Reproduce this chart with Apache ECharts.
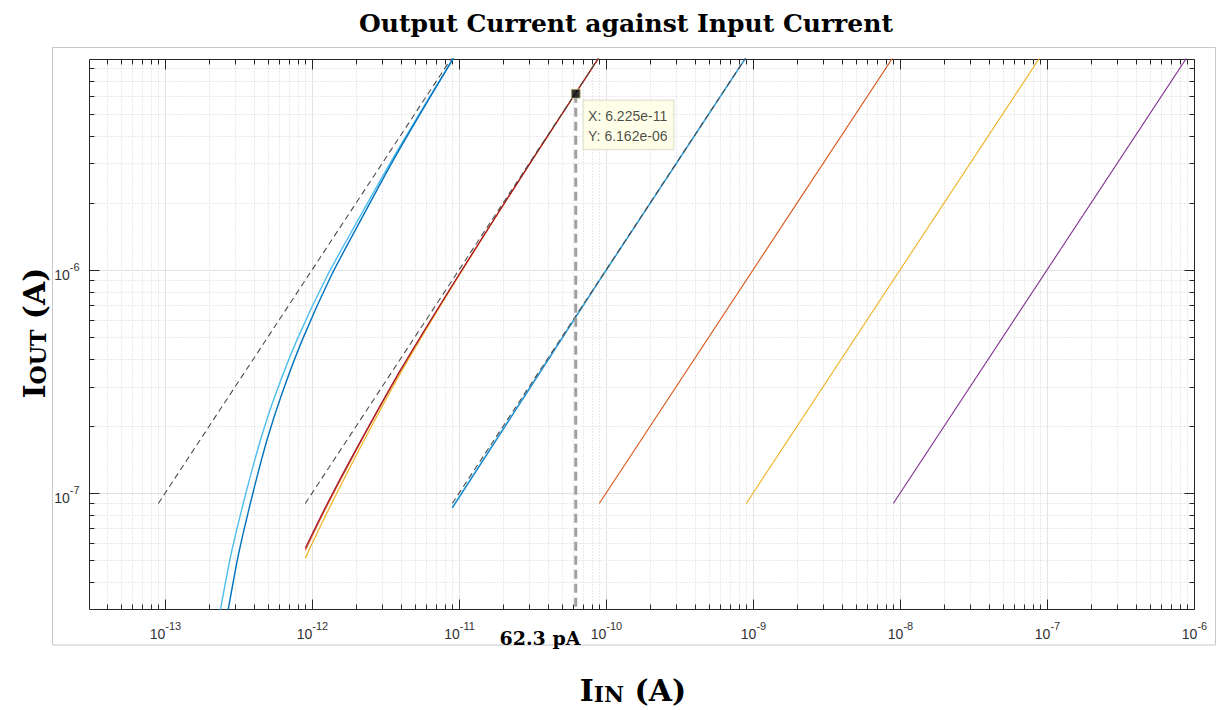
<!DOCTYPE html>
<html><head><meta charset="utf-8">
<script src="https://cdn.jsdelivr.net/npm/echarts@6/dist/echarts.min.js"></script>
<style>html,body{margin:0;padding:0;background:#fff}#c{width:1221px;height:710px}</style>
</head><body><div id="c"></div><script>
// ---- axis ranges & ticks ----
const xMin = 3.04e-14, xMax = 1e-6, yMin = 3.03e-8, yMax = 8.81e-6;
const xMajorTicks = [1e-13, 1e-12, 1e-11, 1e-10, 1e-9, 1e-8, 1e-7, 1e-6];
const xTickExponents = ['-13', '-12', '-11', '-10', '-9', '-8', '-7', '-6'];
const xMinorTicks = [4e-14,5e-14,6e-14,7e-14,8e-14,9e-14,
  2e-13,3e-13,4e-13,5e-13,6e-13,7e-13,8e-13,9e-13,
  2e-12,3e-12,4e-12,5e-12,6e-12,7e-12,8e-12,9e-12,
  2e-11,3e-11,4e-11,5e-11,6e-11,7e-11,8e-11,9e-11,
  2e-10,3e-10,4e-10,5e-10,6e-10,7e-10,8e-10,9e-10,
  2e-9,3e-9,4e-9,5e-9,6e-9,7e-9,8e-9,9e-9,
  2e-8,3e-8,4e-8,5e-8,6e-8,7e-8,8e-8,9e-8,
  2e-7,3e-7,4e-7,5e-7,6e-7,7e-7,8e-7,9e-7];
const yMajorTicks = [1e-7, 1e-6];
const yTickExponents = ['-7', '-6'];
const yMinorTicks = [4e-8,5e-8,6e-8,7e-8,8e-8,9e-8,
  2e-7,3e-7,4e-7,5e-7,6e-7,7e-7,8e-7,9e-7,
  2e-6,3e-6,4e-6,5e-6,6e-6,7e-6,8e-6];

// ---- series data [Iin, Iout] ----
const idealGain1e6 = [[9e-14, 9e-8], [1e-11, 1e-5]];
const idealGain1e5 = [[9e-13, 9e-8], [1e-10, 1e-5]];
const idealGain1e4 = [[9e-12, 9e-8], [1e-9, 1e-5]];

const curveA_light = [[2.09e-13,1.86e-8],[2.40e-13,3.09e-8],[2.82e-13,5.37e-8],[3.55e-13,1.00e-7],[4.47e-13,1.74e-7],
  [5.62e-13,2.75e-7],[7.94e-13,4.90e-7],[1.26e-12,9.33e-7],[2.00e-12,1.62e-6],[3.55e-12,3.16e-6],[6.31e-12,5.96e-6],[1.00e-11,9.77e-6]];
const curveA_blue = [[2.37e-13,1.86e-8],[2.71e-13,3.09e-8],[3.17e-13,5.37e-8],[3.96e-13,1.00e-7],[4.95e-13,1.74e-7],
  [6.19e-13,2.75e-7],[8.63e-13,4.90e-7],[1.34e-12,9.33e-7],[2.09e-12,1.62e-6],[3.63e-12,3.16e-6],[6.37e-12,5.96e-6],[1.00e-11,9.77e-6]];

const curveB_darkred = [[9.0e-13,5.68e-8],[1.26e-12,8.91e-8],[2.0e-12,1.58e-7],[3.98e-12,3.55e-7],[1e-11,9.55e-7],[3.16e-11,3.13e-6],[1e-10,1e-5]];
const curveB_orange = [[9.0e-13,5.55e-8],[1.26e-12,8.75e-8],[2.0e-12,1.56e-7],[3.98e-12,3.52e-7],[1e-11,9.5e-7],[3.16e-11,3.12e-6],[1e-10,1e-5]];
const curveB_yellow = [[9.0e-13,5.12e-8],[1.26e-12,8.13e-8],[2.0e-12,1.48e-7],[3.98e-12,3.43e-7],[1e-11,9.44e-7],[3.16e-11,3.13e-6],[1e-10,1e-5]];

const curveC_blue = [[9.0e-12,8.6e-8],[3.0e-11,2.93e-7],[9e-11,8.95e-7],[1e-9,1e-5]];
const curveC_light = [[9.0e-12,8.7e-8],[3.0e-11,2.95e-7],[9e-11,8.97e-7],[1e-9,1e-5]];

const lineGain1e3 = [[9e-11, 9e-8], [1e-8, 1e-5]];
const lineGain1e2 = [[9e-10, 9e-8], [1e-7, 1e-5]];
const lineGain1e1 = [[9e-9, 9e-8], [1e-6, 1e-5]];

const dataTipPoint = [6.225e-11, 6.162e-6];
const markerText = '62.3 pA';
const titleText = 'Output Current against Input Current';

// ---- chart ----
const chart = echarts.init(document.getElementById('c'), null, {renderer: 'svg'});
const tickColor = '#262626';
const tickRich = {
  b: {fontSize: 14, fontFamily: 'Liberation Sans', lineHeight: 20, verticalAlign: 'bottom', color: '#333', fill: '#333'},
  s: {fontSize: 11, fontFamily: 'Liberation Sans', lineHeight: 12, verticalAlign: 'top', color: '#333', fill: '#333'}
};
const px = v => Math.round(v) + 0.5;
function ln(x1, y1, x2, y2, style) {
  return {type: 'line', shape: {x1, y1, x2, y2}, style: Object.assign({fill: null}, style), silent: true};
}
function renderDecor(params, api) {
  const c = [];
  const bl = api.coord([xMin, yMin]), tr = api.coord([xMax, yMax]);
  const left = px(bl[0]), bottom = px(bl[1]), right = px(tr[0]), top = px(tr[1]);
  const minorGrid = {stroke: '#d4d4d4', lineWidth: 1, lineDash: [1, 2]};
  const majorGrid = {stroke: '#e3e3e3', lineWidth: 1};
  const tick = {stroke: tickColor, lineWidth: 1};
  xMinorTicks.forEach(v => {
    const x = px(api.coord([v, yMin])[0]);
    c.push(ln(x, top, x, bottom, minorGrid));
  });
  yMinorTicks.forEach(v => {
    const y = px(api.coord([xMin, v])[1]);
    c.push(ln(left, y, right, y, minorGrid));
  });
  xMajorTicks.forEach(v => {
    const x = px(api.coord([v, yMin])[0]);
    c.push(ln(x, top, x, bottom, majorGrid));
  });
  yMajorTicks.forEach(v => {
    const y = px(api.coord([xMin, v])[1]);
    c.push(ln(left, y, right, y, majorGrid));
  });
  xMinorTicks.forEach(v => {
    const x = px(api.coord([v, yMin])[0]);
    c.push(ln(x, bottom, x, bottom - 5, tick));
    c.push(ln(x, top, x, top + 5, tick));
  });
  yMinorTicks.forEach(v => {
    const y = px(api.coord([xMin, v])[1]);
    c.push(ln(left, y, left + 5, y, tick));
    c.push(ln(right, y, right - 5, y, tick));
  });
  xMajorTicks.forEach((v, i) => {
    const x = px(api.coord([v, yMin])[0]);
    c.push(ln(x, bottom, x, bottom - 10, tick));
    c.push(ln(x, top, x, top + 10, tick));
    c.push({type: 'text', silent: true, style: {text: '{b|10}{s|' + xTickExponents[i] + '}', rich: tickRich,
      x: x, y: bottom + 11, align: 'center', verticalAlign: 'top'}});
  });
  yMajorTicks.forEach((v, i) => {
    const y = px(api.coord([xMin, v])[1]);
    c.push(ln(left, y, left + 10, y, tick));
    c.push(ln(right, y, right - 10, y, tick));
    c.push({type: 'text', silent: true, style: {text: '{b|10}{s|' + yTickExponents[i] + '}', rich: tickRich,
      x: left - 10, y: y + 1, align: 'right', verticalAlign: 'middle'}});
  });
  c.push({type: 'rect', shape: {x: left, y: top, width: right - left, height: bottom - top},
    style: {fill: null, stroke: tickColor, lineWidth: 1}, silent: true});
  return {type: 'group', children: c};
}
function fmtExp(v) { return v.toExponential(3).replace(/e([+-])(\d)$/, 'e$10$2'); }

function lineSeries(name, data, color, width, dash, z) {
  return {name, type: 'line', data, showSymbol: false, symbol: 'none', silent: true, clip: true,
    smooth: data.length > 4 ? 0.25 : false, z: z || 3,
    lineStyle: {color, width, type: dash || 'solid'}, emphasis: {disabled: true}};
}

const serifBold = 'DejaVu Serif';
const nameRich = {
  b: {fontFamily: serifBold, fontWeight: 'bold', fontSize: 30, lineHeight: 34, verticalAlign: 'bottom', fill: '#000'},
  s: {fontFamily: serifBold, fontWeight: 'bold', fontSize: 22, lineHeight: 28, verticalAlign: 'bottom', fill: '#000'}
};
chart.setOption({
  animation: false,
  backgroundColor: '#fff',
  grid: {left: 89, top: 59, width: 1105, height: 550, containLabel: false, outerBoundsMode: 'none', show: false},
  xAxis: {type: 'log', logBase: 10, min: xMin, max: xMax,
    axisLine: {show: false}, axisTick: {show: false}, axisLabel: {show: false}, splitLine: {show: false},
    minorTick: {show: false}, minorSplitLine: {show: false}},
  yAxis: {type: 'log', logBase: 10, min: yMin, max: yMax,
    axisLine: {show: false}, axisTick: {show: false}, axisLabel: {show: false}, splitLine: {show: false},
    minorTick: {show: false}, minorSplitLine: {show: false}},
  graphic: [
    {type: 'rect', shape: {x: 52.5, y: 47.5, width: 1163, height: 597.5}, style: {fill: null, stroke: '#c8c8c8', lineWidth: 1}, z: -10, silent: true},
    {type: 'text', x: 626, y: 23, style: {text: titleText, font: 'bold 25px "DejaVu Serif"', fill: '#000', align: 'center', verticalAlign: 'middle'}},
    {type: 'text', x: 540, y: 638, style: {text: markerText, font: 'bold 19px "DejaVu Serif"', fill: '#000', align: 'center', verticalAlign: 'middle'}},
    {type: 'text', x: 633, y: 688, style: {text: '{b|I}{s|IN}{b| (A)}', align: 'center', verticalAlign: 'middle', rich: nameRich}},
    {type: 'text', x: 32, y: 333, rotation: Math.PI / 2, style: {text: '{b|I}{s|OUT}{b| (A)}', align: 'center', verticalAlign: 'middle', rich: nameRich}}
  ],
  series: [
    {type: 'custom', coordinateSystem: 'cartesian2d', data: [[xMin, yMin]], renderItem: renderDecor, silent: true, z: 1, clip: false},
    lineSeries('G1e6 light', curveA_light, '#4DBEEE', 1.4),
    lineSeries('G1e6 blue', curveA_blue, '#0072BD', 1.4),
    lineSeries('G1e5 yellow', curveB_yellow, '#EDB120', 1.2),
    lineSeries('G1e5 orange', curveB_orange, '#D95319', 1.2),
    lineSeries('G1e5 darkred', curveB_darkred, '#A2142F', 1.1),
    lineSeries('G1e4 blue', curveC_blue, '#0072BD', 1.4),
    lineSeries('G1e4 light', curveC_light, '#4DBEEE', 0.9),
    lineSeries('G1e3', lineGain1e3, '#D95319', 1.1),
    lineSeries('G1e2', lineGain1e2, '#EDB120', 1.1),
    lineSeries('G1e1', lineGain1e1, '#7E2F8E', 1.1),
    lineSeries('ideal 1e6', idealGain1e6, '#4d4d4d', 1.1, [6, 4], 4),
    lineSeries('ideal 1e5', idealGain1e5, '#4d4d4d', 1.1, [6, 4], 4),
    lineSeries('ideal 1e4', idealGain1e4, '#4d4d4d', 1.1, [6, 4], 4),
    lineSeries('cursor', [dataTipPoint, [dataTipPoint[0], yMin]], '#a0a0a0', 3, [9, 5], 5),
    {type: 'scatter', data: [dataTipPoint], symbol: 'rect', symbolSize: 9, z: 6, silent: true,
      itemStyle: {color: '#000', borderColor: '#d8d49a', borderWidth: 1},
      label: {show: true, position: [12.8, 11.9], align: 'left', verticalAlign: 'top',
        formatter: p => 'X: ' + fmtExp(p.value[0]) + '\nY: ' + fmtExp(p.value[1]),
        fontFamily: 'Liberation Sans', fontSize: 14, lineHeight: 19.4, color: '#1a1a1a',
        backgroundColor: '#ffffe4', borderColor: '#d6d6c4', borderWidth: 1, padding: [6, 6, 4, 4.5]}}
  ]
});
</script></body></html>
